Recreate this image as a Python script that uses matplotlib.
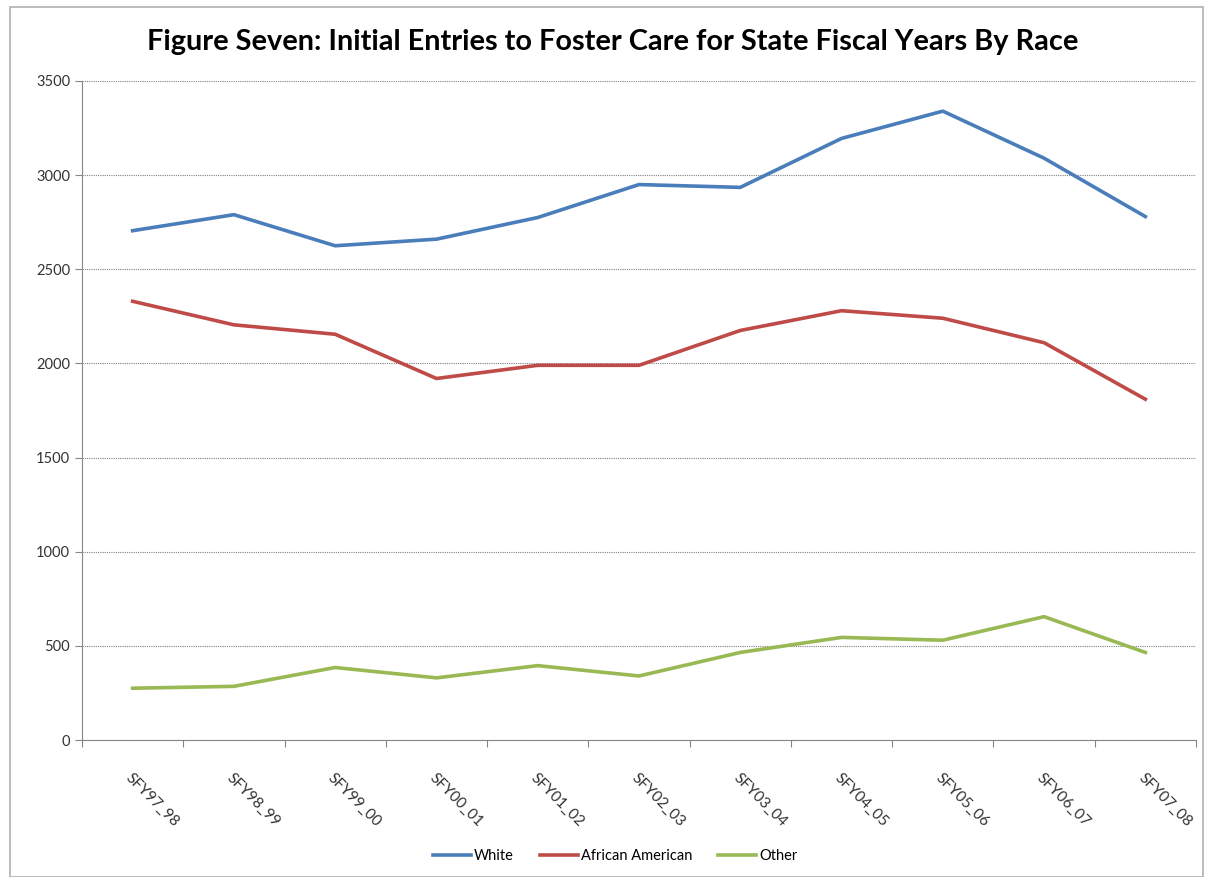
import numpy as np
import matplotlib
matplotlib.use("Agg")
import matplotlib.pyplot as plt
from matplotlib.patches import Rectangle

plt.rcParams['font.family'] = ['Lato', 'DejaVu Sans']

years = ['SFY97_98', 'SFY98_99', 'SFY99_00', 'SFY00_01', 'SFY01_02', 'SFY02_03',
         'SFY03_04', 'SFY04_05', 'SFY05_06', 'SFY06_07', 'SFY07_08']
white = [2705, 2790, 2625, 2660, 2775, 2950, 2935, 3195, 3340, 3090, 2780]
african_american = [2330, 2205, 2155, 1920, 1990, 1990, 2175, 2280, 2240, 2110, 1810]
other = [275, 285, 385, 330, 395, 340, 465, 545, 530, 655, 465]

W, H = 1207, 877
fig = plt.figure(figsize=(W / 100, H / 100), dpi=100)
fig.patches.append(Rectangle((10 / W, 0), 1193 / W, 1 - 7 / H, transform=fig.transFigure,
                             fill=False, edgecolor='#b0b0b0', linewidth=1.2))

ax = fig.add_axes([82 / W, 1 - 740 / H, (1196 - 82) / W, (740 - 81) / H])
x = np.arange(len(years))
ax.plot(x, white, color='#4a7ebb', lw=2.6, label='White')
ax.plot(x, african_american, color='#be4b48', lw=2.6, label='African American')
ax.plot(x, other, color='#98b954', lw=2.6, label='Other')

ax.set_xlim(-0.5, len(years) - 0.5)
ax.set_ylim(0, 3500)
ax.set_yticks(np.arange(0, 3501, 500))
ax.yaxis.grid(True, linestyle=(0, (1, 1)), color='#808080', linewidth=0.8)
ax.set_axisbelow(True)

ax.set_xticks(np.arange(-0.5, len(years), 1))
ax.set_xticklabels([])
ax.set_xticks(x, minor=True)
ax.set_xticklabels(years, minor=True, rotation=-45, ha='left', va='top',
                   rotation_mode='anchor', fontsize=11, color='#333333')
ax.tick_params(axis='x', which='minor', length=0, pad=22)
ax.tick_params(axis='x', which='major', length=5, color='#868686')
ax.tick_params(axis='y', length=5, color='#868686', labelsize=10.5, labelcolor='#333333')

for s in ['top', 'right']:
    ax.spines[s].set_visible(False)
for s in ['left', 'bottom']:
    ax.spines[s].set_color('#868686')

fig.text(613 / W, 1 - 42 / H, 'Figure Seven: Initial Entries to Foster Care for State Fiscal Years By Race',
         ha='center', va='center', fontsize=20.8, fontweight='bold')

fig.legend(loc='center', bbox_to_anchor=(615 / W, 1 - 856 / H), ncol=3, frameon=False,
           fontsize=10.5, handlelength=2.6, columnspacing=1.8, handletextpad=0.2)

fig.savefig('out.png', dpi=100)
